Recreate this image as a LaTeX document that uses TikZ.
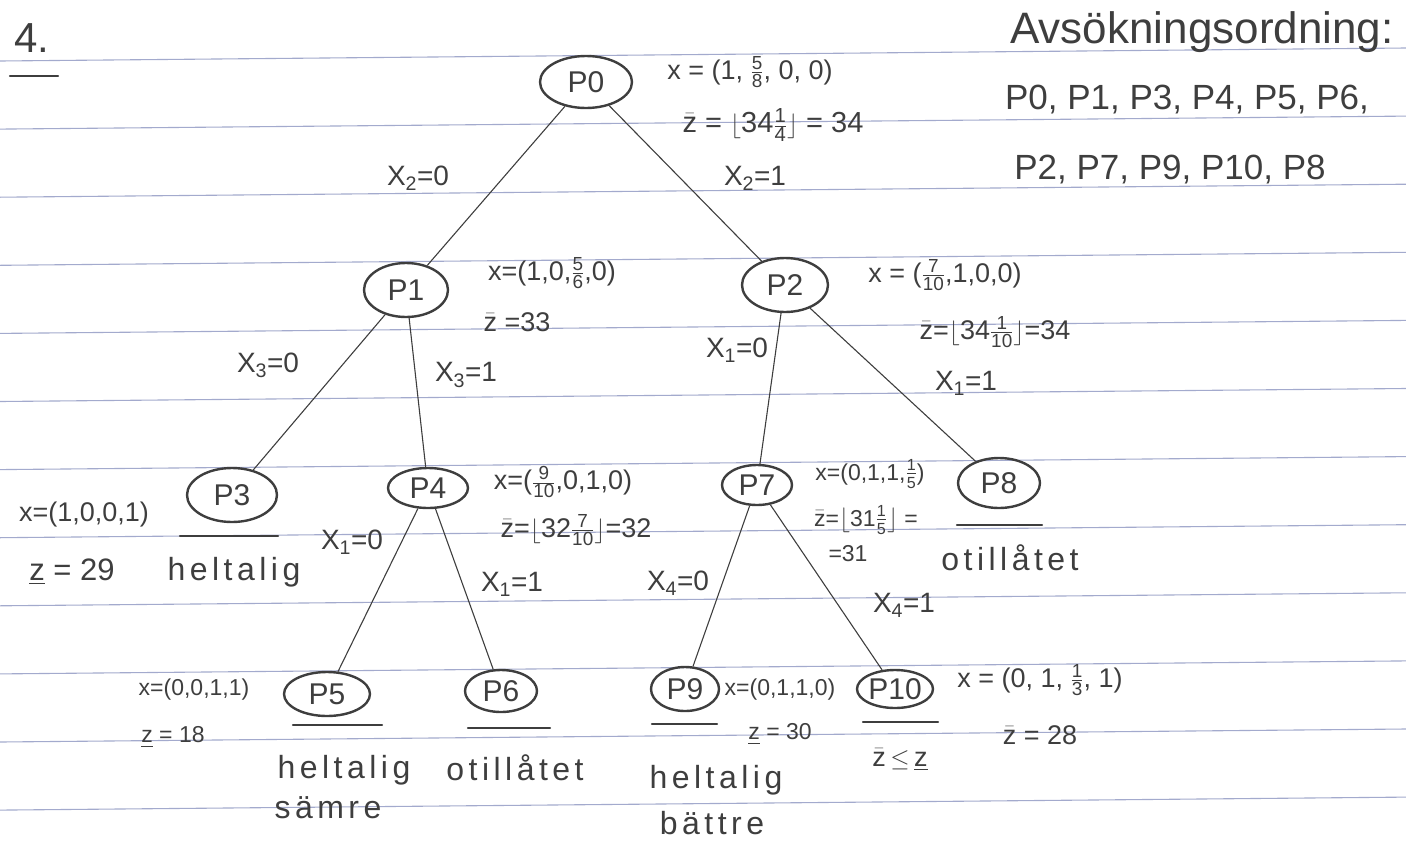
\documentclass[tikz,border=0pt]{standalone}
\usepackage{amsmath}
\usepackage{fontspec}
\setmainfont{Liberation Sans}
\newfontfamily\spaced[LetterSpace=14]{Liberation Sans}
\usetikzlibrary{shapes.geometric}
\definecolor{ruling}{RGB}{163,170,205}
\definecolor{pen}{RGB}{62,62,62}
\newcommand{\fr}[2]{$\genfrac{}{}{0.8pt}{}{\text{#1}}{\text{#2}}$}
\newcommand{\zu}{$\bar{\text{z}}$}
\newcommand{\zl}{$\underline{\text{z}}$}
\newcommand{\lfl}{$\lfloor$}
\newcommand{\rfl}{$\rfloor$}
\tikzset{
  pnode/.style={draw=pen,ellipse,line width=2.4pt,inner sep=0pt,font=\fontsize{30}{32}\selectfont},
  lbl/.style={inner sep=1pt,font=\fontsize{28}{30}\selectfont},
  ann/.style={inner sep=1pt,font=\fontsize{27}{30}\selectfont},
  annsm/.style={inner sep=1pt,font=\fontsize{23}{26}\selectfont},
  word/.style={inner sep=1pt,font=\fontsize{32}{34}\selectfont\spaced},
}

\begin{document}
\begin{tikzpicture}[x=1pt,y=-1pt,
  every node/.style={text=pen},
  edge/.style={draw=pen,line width=1.1pt},
  bar/.style={draw=pen,line width=2.2pt,line cap=round},
  rule/.style={draw=ruling,line width=1.1pt}]
 \useasboundingbox (0,0) rectangle (1406,841);
 % ---- ruled paper
 \foreach \k in {0,...,11}{\draw[rule] (0,61+68.1*\k) -- (1406,48+68.1*\k);}
 % ---- heading and order of search
 \node[font=\fontsize{42}{44}\selectfont] (num) at (32,38){4.};
 \draw[bar] (10,76) -- (58,76);
 \node[font=\fontsize{44}{46}\selectfont] (order) at (1202,32){Avsökningsordning:};
 \node[font=\fontsize{35}{38}\selectfont] (ord1) at (1187,100){P0, P1, P3, P4, P5, P6,};
 \node[font=\fontsize{35}{38}\selectfont] (ord2) at (1170,170){P2, P7, P9, P10, P8};
 % ---- subproblems
 \node[pnode,minimum width=92pt,minimum height=52pt] (p0) at (586,82){P0};
 \node[pnode,minimum width=84pt,minimum height=54pt] (p1) at (406,290){P1};
 \node[pnode,minimum width=86pt,minimum height=54pt] (p2) at (785,285){P2};
 \node[pnode,minimum width=90pt,minimum height=54pt] (p3) at (232,495){P3};
 \node[pnode,minimum width=80pt,minimum height=40pt] (p4) at (428,488){P4};
 \node[pnode,minimum width=70pt,minimum height=40pt] (p7) at (757,485){P7};
 \node[pnode,minimum width=82pt,minimum height=50pt] (p8) at (999,483){P8};
 \node[pnode,minimum width=86pt,minimum height=44pt] (p5) at (327,694){P5};
 \node[pnode,minimum width=72pt,minimum height=42pt] (p6) at (501,691){P6};
 \node[pnode,minimum width=68pt,minimum height=44pt] (p9) at (685,689){P9};
 \node[pnode,minimum width=76pt,minimum height=38pt] (p10) at (895,689){P10};
 % ---- branches
 \draw[edge] (p0) -- (p1); \draw[edge] (p0) -- (p2);
 \draw[edge] (p1) -- (p3); \draw[edge] (p1) -- (p4);
 \draw[edge] (p2) -- (p7); \draw[edge] (p2) -- (p8);
 \draw[edge] (p4) -- (p5); \draw[edge] (p4) -- (p6);
 \draw[edge] (p7) -- (p9); \draw[edge] (p7) -- (p10);
 \node[lbl] (b02) at (418,178){X\textsubscript{2}=0};
 \node[lbl] (b12) at (755,178){X\textsubscript{2}=1};
 \node[lbl] (b03) at (268,365){X\textsubscript{3}=0};
 \node[lbl] (b13) at (466,375){X\textsubscript{3}=1};
 \node[lbl] (b01) at (737,350){X\textsubscript{1}=0};
 \node[lbl] (b11) at (966,383){X\textsubscript{1}=1};
 \node[lbl] (b01b) at (352,542){X\textsubscript{1}=0};
 \node[lbl] (b11b) at (512,584){X\textsubscript{1}=1};
 \node[lbl] (b04) at (678,583){X\textsubscript{4}=0};
 \node[lbl] (b14) at (904,605){X\textsubscript{4}=1};
 % ---- P0, P1, P2
 \node[ann] (s0) at (750,72){x = (1, \fr{5}{8}, 0, 0)};
 \node[ann,font=\fontsize{29}{30}\selectfont] (z0) at (773,125){\zu\ = \lfl34\fr{1}{4}\rfl\ = 34};
 \node[ann] (s1) at (552,273){x=(1,0,\fr{5}{6},0)};
 \node[ann] (z1) at (517,322){\zu\ =33};
 \node[ann] (s2) at (945,275){x = (\fr{7}{10},1,0,0)};
 \node[ann] (z2) at (995,332){\zu=\lfl34\fr{1}{10}\rfl=34};
 % ---- P3, P4
 \node[ann] (s3) at (84,515){x=(1,0,0,1)};
 \node[lbl,font=\fontsize{31}{32}\selectfont] (z3) at (72,572){\zl\ = 29};
 \node[word] (t3) at (234,572){heltalig};
 \draw[bar] (180,536) -- (278,536);
 \node[ann] (s4) at (563,482){x=(\fr{9}{10},0,1,0)};
 \node[ann] (z4) at (576,530){\zu=\lfl32\fr{7}{10}\rfl=32};
 % ---- P7, P8
 \node[annsm] (s7) at (870,474){x=(0,1,1,\fr{1}{5})};
 \node[annsm] (z7) at (866,520){\zu=\lfl31\fr{1}{5}\rfl\ =};
 \node[annsm] (r7) at (848,554){=31};
 \draw[bar] (957,525) -- (1042,525);
 \node[word] (t8) at (1010,558){otillåtet};
 % ---- P5, P6
 \node[annsm] (s5) at (194,690){x=(0,0,1,1)};
 \node[annsm] (z5) at (173,737){\zl\ = 18};
 \draw[bar] (293,725) -- (382,725);
 \node[word] (t5) at (344,770){heltalig};
 \node[word] (u5) at (328,808){sämre};
 \draw[bar] (468,728) -- (550,728);
 \node[word] (t6) at (515,768){otillåtet};
 % ---- P9, P10
 \node[annsm] (s9) at (780,690){x=(0,1,1,0)};
 \draw[bar] (652,724) -- (717,724);
 \node[annsm] (z9) at (780,734){\zl\ = 30};
 \node[word] (t9) at (716,780){heltalig};
 \node[word] (u9) at (712,823){bättre};
 \draw[bar] (863,722) -- (938,722);
 \node[ann] (c10) at (900,760){\zu\,$\leq$\,\zl};
 \node[ann] (s10) at (1040,680){x = (0, 1, \fr{1}{3}, 1)};
 \node[ann] (z10) at (1040,735){\zu\ = 28};
\end{tikzpicture}
\end{document}
